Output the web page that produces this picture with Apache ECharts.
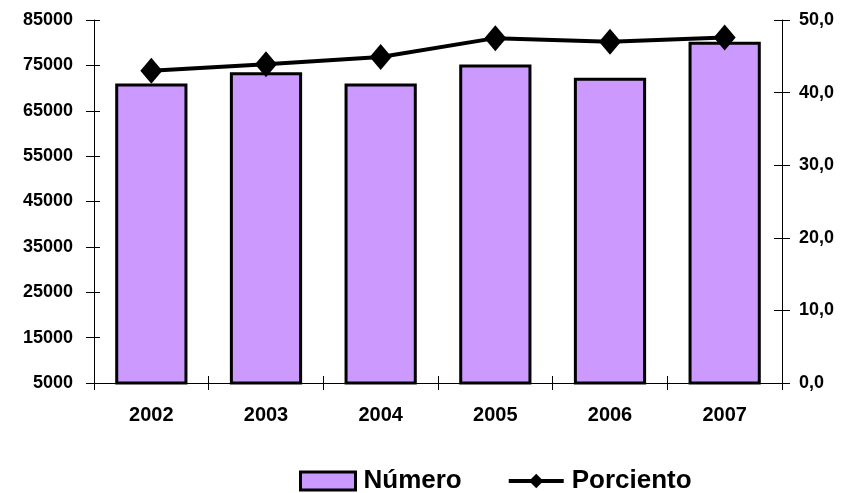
<!DOCTYPE html>
<html><head><meta charset="utf-8">
<script src="https://cdn.jsdelivr.net/npm/echarts@6/dist/echarts.min.js"></script>
<style>html,body{margin:0;padding:0;background:#fff}#c{width:842px;height:493px}</style>
</head><body><div id="c"></div>
<script>
const categories = ['2002','2003','2004','2005','2006','2007'];
const numero = [71000, 73500, 71000, 75200, 72300, 80200];
const porciento = [43.0, 43.9, 44.9, 47.5, 47.0, 47.6];
const leftTicks = [5000, 15000, 25000, 35000, 45000, 55000, 65000, 75000, 85000];
const rightTicks = [0, 10, 20, 30, 40, 50];

const font = 'Liberation Sans, Arial, sans-serif';
const chart = echarts.init(document.getElementById('c'));
const axLine = {show: true, lineStyle: {color: '#000', width: 1}};
const tickStyle = {color: '#000', width: 1};
chart.setOption({
  animation: false,
  grid: {left: 94, right: 60, top: 20, bottom: 110},
  legend: {
    top: 468, left: 299, itemWidth: 55, itemHeight: 18, itemGap: 45, padding: 0,
    textStyle: {fontFamily: font, fontWeight: 'bold', fontSize: 26, color: '#000', padding: [0, 0, 0, 3]},
    data: [
      {name: 'Número', icon: 'rect', itemStyle: {color: '#CC99FF', borderColor: '#000', borderWidth: 3}},
      {name: 'Porciento', lineStyle: {color: '#000', width: 4}, itemStyle: {color: '#000'}}
    ]
  },
  xAxis: [{
    type: 'category', data: categories, position: 'bottom',
    axisLine: axLine,
    axisTick: {show: true, length: 7, lineStyle: tickStyle},
    axisLabel: {margin: 22, fontFamily: font, fontWeight: 'bold', fontSize: 20, color: '#000'}
  }, {
    type: 'category', data: categories, position: 'bottom',
    axisLine: {show: false},
    axisTick: {show: true, inside: true, length: 7, lineStyle: tickStyle},
    axisLabel: {show: false}
  }],
  yAxis: [{
    type: 'value', min: leftTicks[0], max: leftTicks[leftTicks.length-1], interval: 10000,
    position: 'left', splitLine: {show: false},
    axisLine: axLine,
    axisTick: {show: true, length: 8, lineStyle: tickStyle},
    axisLabel: {margin: 21, fontFamily: font, fontWeight: 'bold', fontSize: 18, color: '#000',
      formatter: v => String(v)}
  }, {
    type: 'value', min: rightTicks[0], max: rightTicks[rightTicks.length-1], interval: 10,
    position: 'right', splitLine: {show: false},
    axisLine: axLine,
    axisTick: {show: true, length: 8, lineStyle: tickStyle},
    axisLabel: {margin: 17, fontFamily: font, fontWeight: 'bold', fontSize: 18, color: '#000',
      formatter: v => v.toFixed(1).replace('.', ',')}
  }, {
    type: 'value', min: leftTicks[0], max: leftTicks[leftTicks.length-1], interval: 10000,
    position: 'left', splitLine: {show: false}, axisLine: {show: false},
    axisTick: {show: true, inside: true, length: 6, lineStyle: tickStyle},
    axisLabel: {show: false}
  }, {
    type: 'value', min: rightTicks[0], max: rightTicks[rightTicks.length-1], interval: 10,
    position: 'right', splitLine: {show: false}, axisLine: {show: false},
    axisTick: {show: true, inside: true, length: 8, lineStyle: tickStyle},
    axisLabel: {show: false}
  }],
  series: [{
    name: 'Número', type: 'bar', data: numero, yAxisIndex: 0, barWidth: '63%',
    itemStyle: {color: '#CC99FF', borderColor: '#000', borderWidth: 3}
  }, {
    name: 'Porciento', type: 'line', data: porciento, yAxisIndex: 1,
    symbol: 'diamond', symbolSize: [22, 26],
    lineStyle: {color: '#000', width: 4},
    itemStyle: {color: '#000'}
  }]
});
</script></body></html>
